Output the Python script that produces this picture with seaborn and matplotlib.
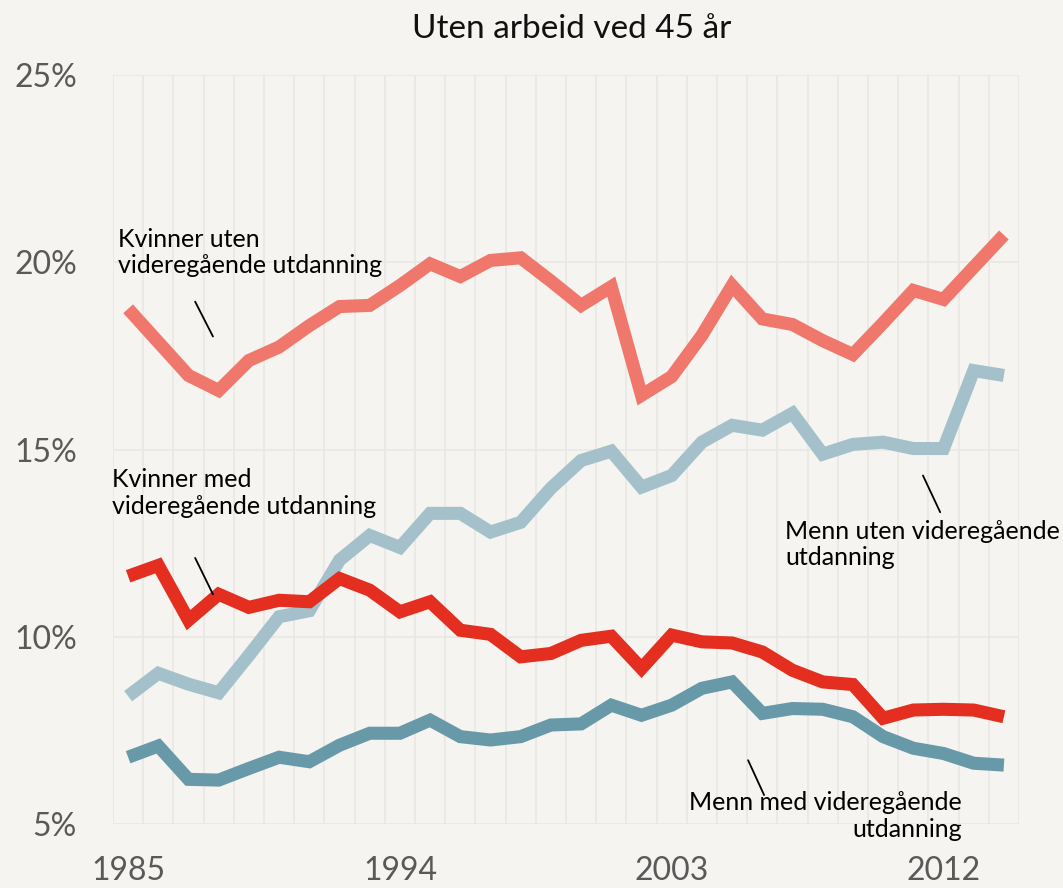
import numpy as np
import pandas as pd
import matplotlib
matplotlib.use("Agg")
import matplotlib.pyplot as plt
import seaborn as sns

years = list(range(1985, 2015))
kvinner_uten = [18.76, 17.87, 16.98, 16.58, 17.38, 17.74, 18.31, 18.82, 18.85, 19.38,
                19.96, 19.62, 20.05, 20.12, 19.50, 18.85, 19.35, 16.45, 16.95, 18.05,
                19.38, 18.49, 18.34, 17.91, 17.54, 18.38, 19.25, 19.01, 19.87, 20.73]
menn_uten = [8.42, 9.03, 8.74, 8.51, 9.51, 10.54, 10.70, 12.05, 12.71, 12.39,
             13.30, 13.30, 12.80, 13.06, 13.97, 14.71, 14.96, 14.00, 14.31, 15.20,
             15.65, 15.52, 15.97, 14.88, 15.14, 15.20, 15.03, 15.03, 17.11, 16.98]
menn_med = [6.79, 7.09, 6.20, 6.18, 6.49, 6.79, 6.67, 7.11, 7.43, 7.43,
            7.78, 7.34, 7.25, 7.34, 7.65, 7.68, 8.18, 7.91, 8.18, 8.63,
            8.80, 7.96, 8.09, 8.07, 7.87, 7.34, 7.03, 6.89, 6.63, 6.58]
kvinner_med = [11.62, 11.91, 10.45, 11.14, 10.79, 10.98, 10.94, 11.56, 11.25, 10.67,
               10.94, 10.18, 10.07, 9.47, 9.56, 9.91, 10.02, 9.16, 10.05, 9.87,
               9.84, 9.60, 9.11, 8.80, 8.73, 7.83, 8.05, 8.07, 8.05, 7.87]

series_names = ["Kvinner uten videregående utdanning",
                "Menn uten videregående utdanning",
                "Menn med videregående utdanning",
                "Kvinner med videregående utdanning"]
series_colors = ["#EF776B", "#A4C1CB", "#6799A8", "#E42E1F"]
x_tick_years = [1985, 1994, 2003, 2012]
y_ticks = [5, 10, 15, 20, 25]
title = "Uten arbeid ved 45 år"

values = [kvinner_uten, menn_uten, menn_med, kvinner_med]
df = pd.DataFrame({
    "year": np.tile(years, len(series_names)),
    "value": np.concatenate(values),
    "series": np.repeat(series_names, len(years)),
})

BG = "#F5F4F0"
GRID = "#E9E7E3"
sns.set_theme(style="white")
plt.rcParams["font.family"] = ["Lato", "DejaVu Sans"]

W, H = 1063, 888
fig = plt.figure(figsize=(W / 100, H / 100), dpi=100, facecolor=BG)
ax = fig.add_axes([113 / W, (H - 824.3) / H, (1019 - 113) / W, (824.3 - 75) / H])
ax.set_facecolor(BG)

sns.lineplot(data=df, x="year", y="value", hue="series", hue_order=series_names,
             palette=dict(zip(series_names, series_colors)), linewidth=9.4,
             legend=False, ax=ax, estimator=None)
for ln in ax.get_lines():
    ln.set_solid_joinstyle("miter")
    ln.set_solid_capstyle("butt")

ax.set_xlim(years[0] - 0.5, years[-1] + 0.5)
ax.set_ylim(y_ticks[0], y_ticks[-1])
ax.set_xticks(x_tick_years)
ax.set_xticklabels([str(y) for y in x_tick_years])
ax.set_xticks(np.arange(years[0] - 0.5, years[-1] + 1, 1), minor=True)
ax.set_yticks(y_ticks)
ax.set_yticklabels([f"{v}%" for v in y_ticks])
ax.grid(False)
ax.grid(which="minor", axis="x", color=GRID, linewidth=1.2)
ax.grid(which="major", axis="y", color=GRID, linewidth=1.2)
ax.set_axisbelow(True)
for s in ax.spines.values():
    s.set_visible(False)
ax.tick_params(which="both", length=0)
ax.tick_params(axis="y", labelsize=23, labelcolor="#595959", pad=26)
ax.tick_params(axis="x", labelsize=23, labelcolor="#595959", pad=23)
ax.set_xlabel("")
ax.set_ylabel("")

fig.text(572 / W, 1 - 29 / H, title, ha="center", va="center", fontsize=24,
         color="#111111")

afs = 18
ax.text(1984.67, 20.26, "Kvinner uten\nvideregående utdanning", fontsize=afs, color="black",
        ha="left", va="center", linespacing=1.2)
ax.plot([1987.22, 1987.81], [18.95, 18.02], color="black", linewidth=1.3)
ax.text(1984.47, 13.85, "Kvinner med\nvideregående utdanning", fontsize=afs, color="black",
        ha="left", va="center", linespacing=1.2)
ax.plot([1987.22, 1987.81], [12.11, 11.14], color="black", linewidth=1.3)
ax.text(2006.75, 12.47, "Menn uten videregående\nutdanning", fontsize=afs, color="black",
        ha="left", va="center", linespacing=1.2)
ax.plot([2011.32, 2011.89], [14.31, 13.33], color="black", linewidth=1.3)
ax.text(2012.62, 5.22, "Menn med videregående\nutdanning", fontsize=afs, color="black",
        ha="right", va="center", multialignment="right", linespacing=1.2)
ax.plot([2005.53, 2006.06], [6.71, 5.78], color="black", linewidth=1.3)

fig.savefig("out.png", dpi=100, facecolor=BG)
